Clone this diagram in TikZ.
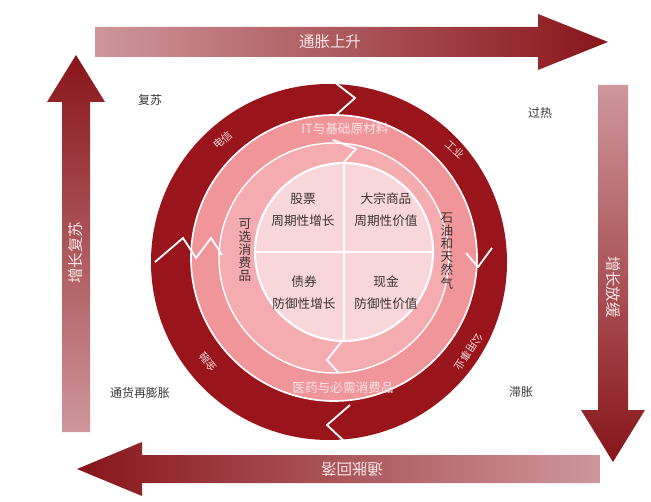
\documentclass[tikz,border=0pt]{standalone}
\usepackage{fontspec}
\newfontfamily\cjk{Noto Sans CJK SC}
\usepackage{xcolor}
\definecolor{arrowlight}{HTML}{CE979B}
\definecolor{arrowdark}{HTML}{88151A}
\definecolor{ringdark}{HTML}{9A151B}
\definecolor{ringpink}{HTML}{F0959A}
\definecolor{bandpink}{HTML}{F4ACB0}
\definecolor{corepink}{HTML}{F8D6D9}
\definecolor{inktext}{HTML}{3C3434}
\definecolor{softwhite}{HTML}{F7E6E6}
\usepackage{tikz}
\usetikzlibrary{positioning, calc}

\begin{document}
\begin{tikzpicture}[x=0.025cm, y=0.025cm,
  arrowlbl/.style={text=softwhite, font=\cjk\fontsize{11}{13}\selectfont},
  phase/.style={text=inktext, font=\cjk\fontsize{8.5}{10}\selectfont},
  quad/.style={text=inktext, font=\cjk\fontsize{9}{15.6}\selectfont, align=center},
  ringlbl/.style={text=#1, font=\cjk\fontsize{7.5}{9}\selectfont, inner sep=1pt},
  vlbl/.style={text=inktext, font=\cjk\fontsize{9}{9.3}\selectfont, align=center},
  notch/.style={draw=white, line width=1.3pt, line join=miter}
]
  \useasboundingbox (0,0) rectangle (651,501);

  % Arrows round the clock
  \shade[left color=arrowlight, right color=arrowdark]
    (95,444) -- (538,444) -- (538,431) -- (608,459) -- (538,487) -- (538,474) -- (95,474) -- cycle;
  \shade[top color=arrowlight, bottom color=arrowdark]
    (598,416) -- (628,416) -- (628,91) -- (645,91) -- (613,39) -- (581,91) -- (598,91) -- cycle;
  \shade[right color=arrowlight, left color=arrowdark]
    (600,46) -- (142,46) -- (142,59) -- (77,32) -- (142,5) -- (142,18) -- (600,18) -- cycle;
  \shade[bottom color=arrowlight, top color=arrowdark]
    (62,69) -- (62,399) -- (47,399) -- (76,446) -- (105,399) -- (90,399) -- (90,69) -- cycle;

  \node[arrowlbl] (rise) at (330,459) {通胀上升};
  \node[arrowlbl, rotate=-90] (slow) at (613,214) {增长放缓};
  \node[arrowlbl, rotate=180] (fall) at (352,32) {通胀回落};
  \node[arrowlbl, rotate=90] (grow) at (76,248) {增长复苏};

  % Phases
  \node[phase] (recovery) at (150,401) {复苏};
  \node[phase] (overheat) at (540,388) {过热};
  \node[phase] (reflation) at (140,108) {通货再膨胀};
  \node[phase] (stagflation) at (521,109) {滞胀};

  % Rings
  \coordinate (c1) at (329,239);
  \coordinate (c2) at (334,243);
  \coordinate (c3) at (344,249);
  \fill[ringdark] (c1) circle (178);
  \filldraw[fill=ringpink, draw=white, line width=1.2pt] (c2) circle (143);
  \filldraw[fill=bandpink, draw=white, line width=1pt] (c2) circle (115);
  \filldraw[fill=corepink, draw=white, line width=1.5pt] (c3) circle (89);
  \draw[white, line width=1.6pt] (c3) ++(-89,0) -- ++(178,0);
  \draw[white, line width=1.6pt] (c3) ++(0,-89) -- ++(0,178);

  % Notches
  \draw[notch] (333,420) -- (355,403) -- (336,386);
  \draw[notch] (333,361) -- (356,352) -- (344,339);
  \draw[notch] (350,96) -- (327,76) -- (345,59);
  \draw[notch] (343,161) -- (327,141) -- (338,129);
  \draw[notch] (155,239) -- (183,263) -- (196,243) -- (211,263) -- (222,246);
  \draw[notch] (466,248) -- (478,234) -- (492,253);

  % Sectors
  \node[ringlbl=softwhite!85!ringpink, rotate=41] (telecom) at (223,361) {电信};
  \node[ringlbl=softwhite!85!ringpink, rotate=-42] (industry) at (455,352) {工业};
  \node[ringlbl=softwhite!85!ringpink, rotate=-123] (utility) at (469,149) {公用事业};
  \node[ringlbl=softwhite!85!ringpink, rotate=130] (finance) at (208,139) {金融};
  \node[ringlbl=softwhite, font=\cjk\fontsize{9}{10}\selectfont] (material) at (345,372) {IT与基础原材料};
  \node[ringlbl=softwhite, font=\cjk\fontsize{9}{10}\selectfont] (staples) at (343,113) {医药与必需消费品};
  \node[vlbl] (discretion) at (245,251) {可\\选\\消\\费\\品};
  \node[vlbl] (oilgas) at (447,250) {石\\油\\和\\天\\然\\气};

  % Assets
  \node[quad] (stocks) at (303,291) {股票\\周期性增长};
  \node[quad] (commod) at (386,291) {大宗商品\\周期性价值};
  \node[quad] (bonds) at (304,208) {债券\\防御性增长};
  \node[quad] (cash) at (386,208) {现金\\防御性价值};

\end{tikzpicture}
\end{document}
